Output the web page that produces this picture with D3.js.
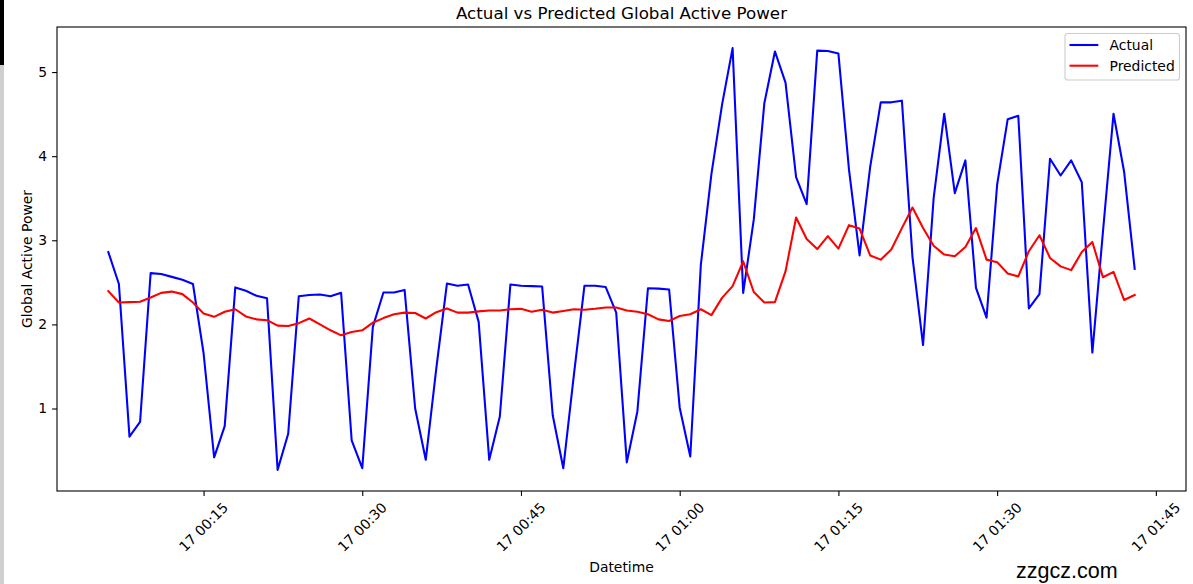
<!DOCTYPE html>
<html>
<head>
<meta charset="utf-8">
<script src="https://cdn.jsdelivr.net/npm/d3@7"></script>
<style>
  html, body { margin: 0; padding: 0; background: #ffffff; }
  svg { display: block; }
  text { font-family: "DejaVu Sans", sans-serif; fill: #000; }
</style>
</head>
<body>
<svg id="chart" width="1193" height="584"></svg>
<script>
// ---- Data (one reading per minute, starting 17 00:06) ----
const startTime = new Date(2006, 11, 17, 0, 6);
const seriesNames = ["Actual", "Predicted"];
const seriesColors = ["#0000ff", "#ff0000"];
const actual = [
  2.86, 2.48, 0.665, 0.84, 2.61, 2.60, 2.565, 2.53, 2.48, 1.66,
  0.42, 0.79, 2.44, 2.40, 2.34, 2.31, 0.27, 0.70, 2.335, 2.35,
  2.355, 2.335, 2.375, 0.62, 0.29, 1.97, 2.38, 2.38, 2.41, 1.0,
  0.39, 1.48, 2.485, 2.46, 2.475, 2.03, 0.39, 0.905, 2.475, 2.46,
  2.455, 2.45, 0.92, 0.29, 1.40, 2.46, 2.46, 2.445, 2.14, 0.36,
  0.965, 2.43, 2.425, 2.415, 1.01, 0.43, 2.71, 3.79, 4.61, 5.285,
  2.375, 3.245, 4.63, 5.245, 4.875, 3.75, 3.43, 5.255, 5.25, 5.22,
  3.84, 2.82, 3.87, 4.64, 4.64, 4.66, 2.8, 1.755, 3.5, 4.505,
  3.56, 3.95, 2.435, 2.08, 3.66, 4.44, 4.48, 2.19, 2.36, 3.97,
  3.77, 3.95, 3.69, 1.665, 3.1, 4.505, 3.815, 2.66
];
const predicted = [
  2.395, 2.26, 2.265, 2.27, 2.32, 2.375, 2.39, 2.36, 2.26, 2.13,
  2.09, 2.15, 2.18, 2.095, 2.06, 2.05, 1.985, 1.98, 2.015, 2.07,
  2.0, 1.93, 1.87, 1.91, 1.93, 2.02, 2.075, 2.12, 2.14, 2.135,
  2.07, 2.145, 2.19, 2.14, 2.14, 2.155, 2.165, 2.165, 2.18, 2.185,
  2.15, 2.175, 2.14, 2.16, 2.18, 2.175, 2.185, 2.2, 2.2, 2.165,
  2.15, 2.12, 2.06, 2.04, 2.10, 2.12, 2.18, 2.11, 2.315, 2.455,
  2.75, 2.385, 2.26, 2.265, 2.63, 3.27, 3.015, 2.895, 3.05, 2.9,
  3.18, 3.14, 2.82, 2.77, 2.89, 3.145, 3.39, 3.145, 2.935, 2.83,
  2.81, 2.92, 3.145, 2.77, 2.74, 2.605, 2.57, 2.87, 3.06, 2.79,
  2.69, 2.645, 2.86, 2.98, 2.56, 2.625, 2.29, 2.35
];
const yTickValues = [1, 2, 3, 4, 5];
const titleText = "Actual vs Predicted Global Active Power";
const xLabelText = "Datetime";
const yLabelText = "Global Active Power";

// ---- Layout ----
const svg = d3.select("#chart");
const W = 1193, H = 584;
const plot = { left: 57, right: 1186, top: 27, bottom: 491 };

// page edge artifact (screenshot border)
svg.append("rect").attr("x", 0).attr("y", 0).attr("width", 4).attr("height", 65).attr("fill", "#000");
svg.append("rect").attr("x", 0).attr("y", 65).attr("width", 4).attr("height", H - 65).attr("fill", "#cfcfcf");

const times = actual.map((_, i) => d3.timeMinute.offset(startTime, i));
const t0 = times[0], t1 = times[times.length - 1];
const span = t1 - t0;
const x = d3.scaleTime()
  .domain([new Date(+t0 - 0.05 * span), new Date(+t1 + 0.05 * span)])
  .range([plot.left, plot.right]);

const allVals = actual.concat(predicted);
const vmin = d3.min(allVals), vmax = d3.max(allVals);
const vpad = 0.05 * (vmax - vmin);
const y = d3.scaleLinear()
  .domain([vmin - vpad, vmax + vpad])
  .range([plot.bottom, plot.top]);

// ---- Lines ----
const series = [actual, predicted];
const line = d3.line().x((d, i) => x(times[i])).y(d => y(d));
series.forEach((s, k) => {
  svg.append("path")
    .datum(s)
    .attr("d", line)
    .attr("fill", "none")
    .attr("stroke", seriesColors[k])
    .attr("stroke-width", 2.08)
    .attr("stroke-linejoin", "round")
    .attr("stroke-linecap", "square");
});

// ---- Axes frame ----
svg.append("rect")
  .attr("x", plot.left).attr("y", plot.top)
  .attr("width", plot.right - plot.left).attr("height", plot.bottom - plot.top)
  .attr("fill", "none").attr("stroke", "#000").attr("stroke-width", 1.1);

// ---- X axis ----
const xTicks = x.ticks(d3.timeMinute.every(15));
const fmt = d3.timeFormat("%d %H:%M");
const xAxis = d3.axisBottom(x).tickValues(xTicks).tickSize(4.9).tickFormat("");
const gx = svg.append("g").attr("transform", `translate(0,${plot.bottom})`).call(xAxis);
gx.select(".domain").remove();
gx.selectAll(".tick line").attr("stroke", "#000").attr("stroke-width", 1.1);
svg.append("g").selectAll("text").data(xTicks).join("text")
  .attr("transform", d => `translate(${x(d)},527) rotate(-45)`)
  .attr("text-anchor", "middle")
  .attr("dominant-baseline", "central")
  .style("font-size", "13.9px")
  .text(d => fmt(d));

// ---- Y axis ----
const yAxis = d3.axisLeft(y).tickValues(yTickValues).tickSize(4.9).tickPadding(4.9).tickFormat(d3.format("d"));
const gy = svg.append("g").attr("transform", `translate(${plot.left},0)`).call(yAxis);
gy.select(".domain").remove();
gy.selectAll(".tick line").attr("stroke", "#000").attr("stroke-width", 1.1);
gy.selectAll(".tick text")
  .attr("fill", "#000")
  .style("font-family", "DejaVu Sans")
  .style("font-size", "13.9px");

// ---- Labels ----
svg.append("text")
  .attr("x", (plot.left + plot.right) / 2).attr("y", 18.5)
  .attr("text-anchor", "middle")
  .style("font-size", "16.7px")
  .text(titleText);

svg.append("text")
  .attr("x", (plot.left + plot.right) / 2).attr("y", 572)
  .attr("text-anchor", "middle")
  .style("font-size", "13.9px")
  .text(xLabelText);

svg.append("text")
  .attr("transform", `translate(31.5,${(plot.top + plot.bottom) / 2}) rotate(-90)`)
  .attr("text-anchor", "middle")
  .style("font-size", "13.9px")
  .text(yLabelText);

// ---- Legend ----
const lg = svg.append("g");
lg.append("rect")
  .attr("x", 1065).attr("y", 33.5).attr("width", 114.5).attr("height", 46.5)
  .attr("rx", 2.8).attr("ry", 2.8)
  .attr("fill", "#fff").attr("fill-opacity", 0.8)
  .attr("stroke", "#cccccc").attr("stroke-width", 1.1);
seriesNames.forEach((name, k) => {
  const yy = 45 + k * 20.7;
  lg.append("line")
    .attr("x1", 1069.5).attr("x2", 1098.3).attr("y1", yy).attr("y2", yy)
    .attr("stroke", seriesColors[k]).attr("stroke-width", 2.08);
  lg.append("text")
    .attr("x", 1109.5).attr("y", yy + 5)
    .style("font-size", "13.9px")
    .text(name);
});

// ---- Watermark ----
svg.append("text")
  .attr("x", 1016).attr("y", 577.5)
  .style("font-family", "'Liberation Sans', Arial, sans-serif")
  .style("font-size", "21.5px")
  .attr("fill", "#111")
  .text("zzgcz.com");
</script>
</body>
</html>
